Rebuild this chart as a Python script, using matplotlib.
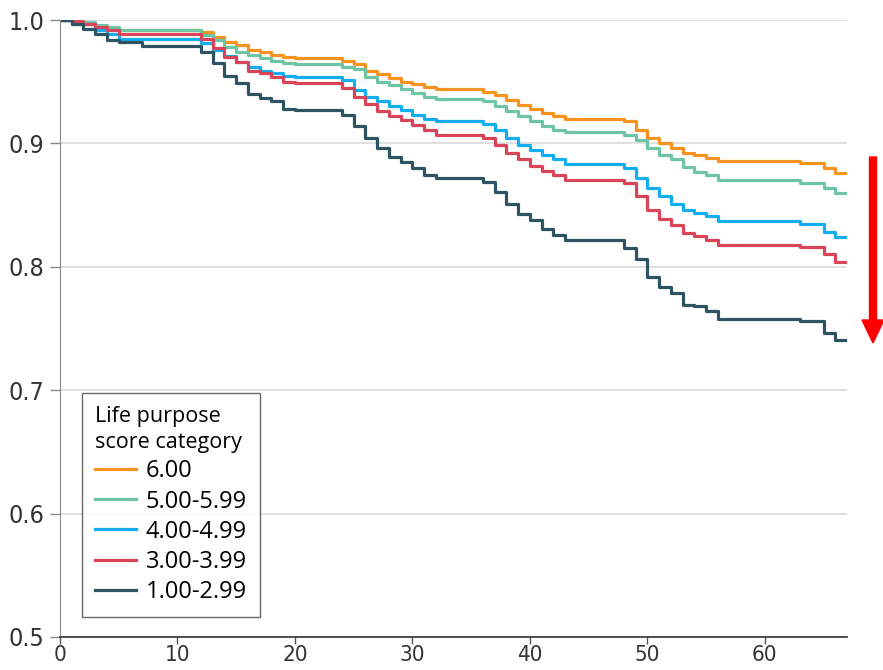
import matplotlib
matplotlib.use("Agg")
import matplotlib.pyplot as plt
from matplotlib.patches import FancyArrow

# step times (months) where the curves change
times = [0, 1, 2, 3, 4, 5, 7,
         12, 13, 14, 15, 16, 17, 18, 19, 20,
         24, 25, 26, 27, 28, 29, 30, 31, 32,
         36, 37, 38, 39, 40, 41, 42, 43,
         48, 49, 50, 51, 52, 53, 54, 55, 56,
         63, 65, 66]
t_end = 67

s_600 = [1.000, 0.999, 0.997, 0.995, 0.993, 0.992, 0.992,
         0.990, 0.986, 0.982, 0.980, 0.976, 0.974, 0.972, 0.970, 0.969,
         0.967, 0.964, 0.959, 0.956, 0.953, 0.950, 0.948, 0.946, 0.944,
         0.942, 0.939, 0.935, 0.931, 0.928, 0.925, 0.922, 0.920,
         0.918, 0.911, 0.904, 0.900, 0.896, 0.892, 0.891, 0.888, 0.886,
         0.884, 0.880, 0.876]
s_500 = [1.000, 0.999, 0.998, 0.996, 0.994, 0.992, 0.992,
         0.988, 0.984, 0.978, 0.974, 0.972, 0.969, 0.967, 0.965, 0.964,
         0.962, 0.960, 0.954, 0.950, 0.947, 0.944, 0.941, 0.938, 0.936,
         0.934, 0.930, 0.926, 0.922, 0.918, 0.914, 0.911, 0.909,
         0.907, 0.903, 0.896, 0.891, 0.887, 0.881, 0.877, 0.874, 0.870,
         0.868, 0.864, 0.860]
s_400 = [1.000, 0.997, 0.997, 0.992, 0.989, 0.985, 0.985,
         0.981, 0.976, 0.971, 0.966, 0.962, 0.959, 0.957, 0.955, 0.954,
         0.951, 0.943, 0.938, 0.934, 0.930, 0.927, 0.923, 0.920, 0.918,
         0.916, 0.911, 0.904, 0.899, 0.895, 0.891, 0.887, 0.883,
         0.880, 0.872, 0.864, 0.857, 0.851, 0.846, 0.844, 0.841, 0.837,
         0.835, 0.828, 0.824]
s_300 = [1.000, 0.999, 0.997, 0.994, 0.992, 0.989, 0.989,
         0.985, 0.977, 0.970, 0.966, 0.959, 0.957, 0.954, 0.950, 0.949,
         0.945, 0.938, 0.932, 0.926, 0.922, 0.919, 0.915, 0.911, 0.907,
         0.904, 0.899, 0.892, 0.887, 0.882, 0.878, 0.874, 0.870,
         0.868, 0.857, 0.846, 0.839, 0.834, 0.827, 0.825, 0.822, 0.818,
         0.816, 0.810, 0.804]
s_100 = [1.000, 0.997, 0.993, 0.989, 0.984, 0.982, 0.979,
         0.974, 0.965, 0.955, 0.949, 0.940, 0.937, 0.934, 0.928, 0.927,
         0.923, 0.914, 0.904, 0.896, 0.889, 0.885, 0.880, 0.874, 0.872,
         0.869, 0.861, 0.851, 0.843, 0.838, 0.831, 0.826, 0.822,
         0.815, 0.806, 0.792, 0.784, 0.779, 0.769, 0.768, 0.764, 0.758,
         0.756, 0.746, 0.741]

labels = ["6.00", "5.00-5.99", "4.00-4.99", "3.00-3.99", "1.00-2.99"]
colors = ["#F7931E", "#6DC5A3", "#12AEEF", "#DA4458", "#2E5464"]
series = [s_600, s_500, s_400, s_300, s_100]

x_ticks = [0, 10, 20, 30, 40, 50, 60]
y_ticks = [0.5, 0.6, 0.7, 0.8, 0.9, 1.0]

x_font = {"family": "DejaVu Sans", "stretch": "condensed", "size": 16}
y_font = {"family": "DejaVu Sans", "stretch": "condensed", "size": 18}

fig = plt.figure(figsize=(8.83, 6.70), dpi=100)
ax = fig.add_axes([60 / 883, 33 / 670, 787 / 883, 617 / 670])

for vals, lab, col in zip(series, labels, colors):
    ax.step(times + [t_end], vals + [vals[-1]], where="post",
            color=col, lw=2.3, label=lab)

ax.set_xlim(0, t_end)
ax.set_ylim(0.5, 1.0)
ax.set_xticks(x_ticks)
ax.set_yticks(y_ticks)
ax.set_xticklabels([str(v) for v in x_ticks], fontdict=x_font, color="#333333")
ax.set_yticklabels(["%.1f" % v for v in y_ticks], fontdict=y_font, color="#333333")
ax.tick_params(axis="y", length=7, width=1, color="#888888", pad=4)
ax.tick_params(axis="x", length=5, width=1, color="#555555", pad=0.5)

ax.grid(axis="y", color="#dddddd", lw=1.3)
ax.set_axisbelow(True)
for side in ["top", "right"]:
    ax.spines[side].set_visible(False)
ax.spines["left"].set_color("#888888")
ax.spines["bottom"].set_color("#333333")
ax.spines["bottom"].set_linewidth(1.2)

leg = ax.legend(title="Life purpose\nscore category", loc="lower left",
                bbox_to_anchor=(22 / 787, 20 / 617), borderaxespad=0,
                prop={"family": "Open Sans", "size": 17},
                title_fontproperties={"family": "Open Sans", "size": 15.5},
                frameon=True, fancybox=False, edgecolor="#444444",
                handlelength=1.75, handletextpad=0.4, labelspacing=0.26,
                borderpad=0.55, alignment="left")
leg.get_title().set_linespacing(1.35)
leg.get_frame().set_linewidth(1.0)
for line in leg.get_lines():
    line.set_linewidth(2.3)

# red arrow on the right
arrow = FancyArrow(873 / 883, (670 - 157) / 670, 0, -(343 - 157) / 670,
                   width=7 / 883, head_width=22 / 883, head_length=23 / 670,
                   length_includes_head=True, color="#FF0000",
                   transform=fig.transFigure)
fig.add_artist(arrow)

fig.savefig("out.png", dpi=100)
